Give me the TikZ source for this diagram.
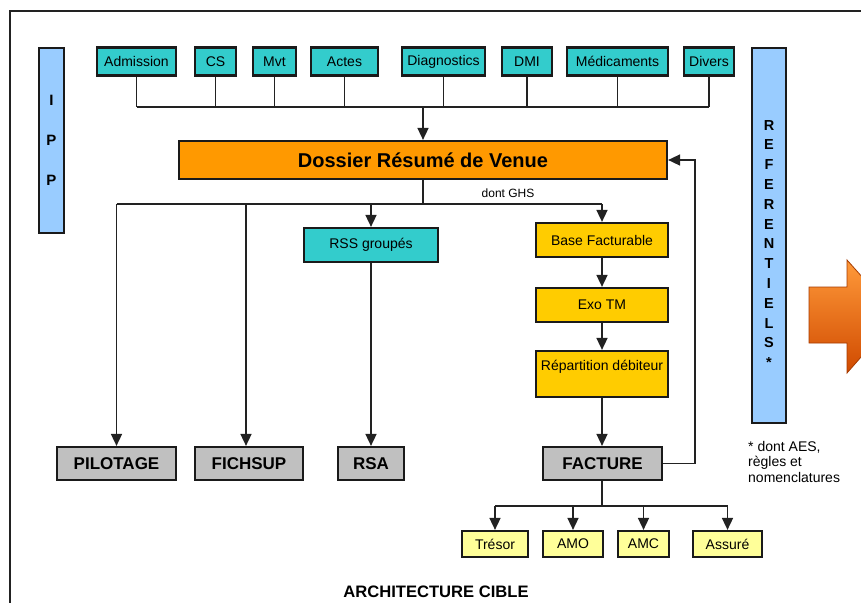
\documentclass[tikz,border=0pt]{standalone}
\usepackage{fontspec}
\setmainfont{Liberation Sans}
\usetikzlibrary{arrows.meta}
\definecolor{tealc}{HTML}{33CCCC}
\definecolor{bluec}{HTML}{99CCFF}
\definecolor{orangec}{HTML}{FF9900}
\definecolor{goldc}{HTML}{FFCC00}
\definecolor{grayc}{HTML}{C0C0C0}
\definecolor{paleyel}{HTML}{FFFF99}
\definecolor{bordc}{HTML}{1A1A1A}
\definecolor{linec}{HTML}{222222}
\definecolor{arrlight}{HTML}{FF9A3A}
\definecolor{arrmid}{HTML}{FF6A00}
\definecolor{arrdark}{HTML}{D04A00}
\begin{document}
\begin{tikzpicture}[x=1pt,y=-1pt,
  box/.style={draw=bordc, line width=2.2pt, inner sep=0pt, rectangle},
  tealbox/.style={box, fill=tealc, minimum height=28, font=\fontsize{14}{16}\selectfont},
  goldbox/.style={box, fill=goldc, font=\fontsize{14}{16.8}\selectfont},
  graybox/.style={box, fill=grayc, minimum height=33, font=\fontsize{17}{20}\selectfont\bfseries},
  paybox/.style={box, fill=paleyel, minimum height=26, font=\fontsize{14}{16}\selectfont},
  bluebox/.style={box, fill=bluec},
  conn/.style={draw=linec, line width=1.6pt},
  arr/.style={conn, -{Triangle[length=12pt,width=11pt]}}
]
\useasboundingbox (0,0) rectangle (861,602);
\clip (0,0) rectangle (861,602);
\fill[white] (0,0) rectangle (861,602);
% frame
\draw[draw=linec, line width=1.5pt] (10,620) -- (10,11) -- (880,11);

% side bars
\node[bluebox, minimum width=25, minimum height=185, align=center,
      font=\fontsize{15}{40}\selectfont\bfseries] (ipp) at (51.5,140.5) {I\\P\\P};
\node[bluebox, minimum width=34, minimum height=375] (ref) at (769,235.5) {};
\node[inner sep=0pt, align=center, font=\fontsize{14.5}{19.8}\selectfont\bfseries]
      (reftxt) at (769,244) {R\\E\\F\\E\\R\\E\\N\\T\\I\\E\\L\\S\\*};

% top boxes
\node[tealbox, minimum width=79] (adm) at (136.5,61.5) {Admission};
\node[tealbox, minimum width=41] (cs) at (215.5,61.5) {CS};
\node[tealbox, minimum width=43] (mvt) at (274.5,61.5) {Mvt};
\node[tealbox, minimum width=67] (act) at (344.5,61.5) {Actes};
\node[tealbox, minimum width=83] (dia) at (443.5,61.5) {Diagnostics};
\node[tealbox, minimum width=50] (dmi) at (527,61.5) {DMI};
\node[tealbox, minimum width=101] (med) at (617.5,61.5) {Médicaments};
\node[tealbox, minimum width=50] (div) at (709,61.5) {Divers};

% main box
\node[box, fill=orangec, minimum width=488, minimum height=38,
      font=\fontsize{20}{24}\selectfont\bfseries] (drv) at (423,160) {Dossier Résumé de Venue};

\coordinate (bus) at (423,107);
\foreach \n in {adm,cs,mvt,act,dia,dmi,med,div}{
  \draw[conn] (\n.south) -- (\n.south |- bus);
}
\draw[conn] (adm.south |- bus) -- (div.south |- bus);
\draw[arr] (bus) -- (drv.north);

% second level
\node[tealbox, minimum width=134, minimum height=34] (rss) at (371,245) {RSS groupés};
\node[goldbox, minimum width=132, minimum height=34] (base) at (602,240) {Base Facturable};
\node[goldbox, minimum width=132, minimum height=34] (exo) at (602,305) {Exo TM};
\node[goldbox, minimum width=132, minimum height=46, align=center] (rep) at (602,374) {Répartition débiteur\\\mbox{}};

\node[graybox, minimum width=119] (pil) at (116.5,463.5) {PILOTAGE};
\node[graybox, minimum width=108] (fich) at (249,463.5) {FICHSUP};
\node[graybox, minimum width=66] (rsa) at (371,463.5) {RSA};
\node[graybox, minimum width=119] (fact) at (602.5,463.5) {FACTURE};

\coordinate (split) at (423,204);
\draw[conn] (drv.south) -- (split);
\draw[conn] (pil.north |- split) -- (base.north |- split);
\node[font=\fontsize{12}{14}\selectfont, inner sep=0pt] (ghs) at (508,193) {dont GHS};
\draw[arr] (pil.north |- split) -- (pil.north);
\draw[arr] ([xshift=-3]fich.north |- split) -- ([xshift=-3]fich.north);
\draw[arr] (rss.north |- split) -- (rss.north);
\draw[arr] (base.north |- split) -- (base.north);
\draw[arr] (rss.south) -- (rsa.north);
\draw[arr] (base.south) -- (exo.north);
\draw[arr] (exo.south) -- (rep.north);
\draw[arr] (rep.south) -- ([xshift=-0.5]fact.north);

% feedback
\coordinate (fb) at (695,463.5);
\draw[arr] (fact.east) -- (fb) |- (drv.east);

% payers
\node[paybox, minimum width=66] (tre) at (495,544) {Trésor};
\node[paybox, minimum width=60] (amo) at (573,544) {AMO};
\node[paybox, minimum width=51] (amc) at (643.5,544) {AMC};
\node[paybox, minimum width=69] (ass) at (727.5,544) {Assuré};
\coordinate (pbus) at (602,506);
\draw[conn] ([xshift=-0.5]fact.south) -- (pbus);
\draw[conn] (tre.north |- pbus) -- (ass.north |- pbus);
\foreach \n in {tre,amo,amc,ass}{
  \draw[arr] (\n.north |- pbus) -- (\n.north);
}

% notes
\node[anchor=north west, inner sep=0pt, align=left, font=\fontsize{14}{15.5}\selectfont]
  (note) at (748,441) {* dont AES,\\règles et\\nomenclatures};
\node[inner sep=0pt, font=\fontsize{16.6}{20}\selectfont\bfseries] (title) at (436,592) {ARCHITECTURE CIBLE};

% big orange arrow
\shade[top color=arrlight, middle color=arrmid, bottom color=arrdark]
  (809,287) -- (847,287) -- (847,260) -- (897,316) -- (847,373) -- (847,343) -- (809,343) -- cycle;
\draw[draw=arrdark!80!black, line width=0.8pt]
  (809,287) -- (847,287) -- (847,260) -- (897,316) -- (847,373) -- (847,343) -- (809,343) -- cycle;
\end{tikzpicture}
\end{document}
